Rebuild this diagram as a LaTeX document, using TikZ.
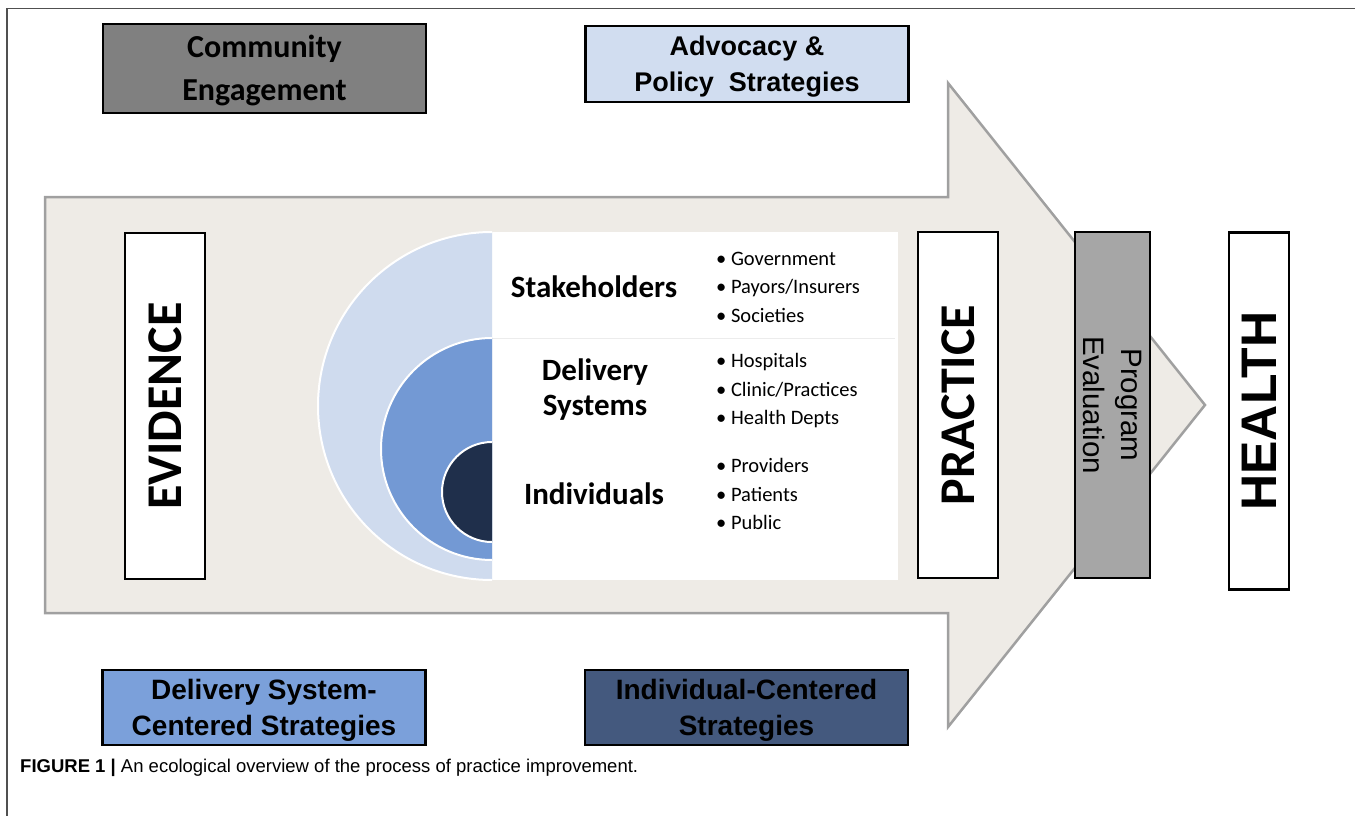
\documentclass[tikz,border=0pt]{standalone}
\usepackage{fontspec}
\setmainfont{Carlito}
\newfontfamily\arial{Liberation Sans}
\definecolor{arrowfill}{HTML}{EEEBE6}
\definecolor{arrowline}{HTML}{A0A0A0}
\definecolor{commfill}{HTML}{808080}
\definecolor{advfill}{HTML}{D1DDF0}
\definecolor{dssfill}{HTML}{7BA0DA}
\definecolor{indfill}{HTML}{44597E}
\definecolor{progfill}{HTML}{A6A6A6}
\definecolor{arcA}{HTML}{CFDBEE}
\definecolor{arcB}{HTML}{7399D4}
\definecolor{arcC}{HTML}{1F2F4B}
\definecolor{framecol}{HTML}{505050}
\tikzset{
  box/.style={draw=black, line width=2.5pt, inner sep=0pt, align=center},
  hbox/.style={box, minimum width=323pt},
  vbox/.style={box, rotate=90, minimum width=346pt, fill=white},
  boxtext/.style={inner sep=0pt, align=center},
  heading/.style={font=\bfseries\fontsize{31}{35}\selectfont, align=center, inner sep=0pt},
  bullets/.style={font=\fontsize{20.5}{28.5}\selectfont, align=left, anchor=west, inner sep=0pt},
}
\begin{document}
\begin{tikzpicture}[x=1pt,y=-1pt]
\useasboundingbox (0,0) rectangle (1355,816);
% frame
\draw[framecol, line width=1.5pt] (7,816) -- (7,8.5) -- (1355,8.5);
% big arrow
\draw[fill=arrowfill, draw=arrowline, line width=2.5pt, line join=miter]
  (45,197) -- (948,197) -- (948,83) -- (1205,405) -- (948,727) -- (948,613) -- (45,613) -- cycle;
% top boxes
\node[hbox, fill=commfill, minimum height=89pt] (comm) at (264.5,68.5) {};
\node[boxtext, font=\bfseries\fontsize{32}{43}\selectfont] (commt) at (264.5,70) {Community\\Engagement};
\node[hbox, fill=advfill, minimum height=76pt] (adv) at (747,64) {};
\node[boxtext, font=\arial\bfseries\fontsize{27}{36}\selectfont] (advt) at (747,67) {Advocacy \&\\Policy\ \ Strategies};
% bottom boxes
\node[hbox, fill=dssfill, minimum height=75pt] (dss) at (264,707.5) {};
\node[boxtext, font=\arial\bfseries\fontsize{28}{36}\selectfont] (dsst) at (264,710.5) {Delivery System-\\Centered Strategies};
\node[hbox, fill=indfill, minimum height=75pt] (ind) at (746.5,707.5) {};
\node[boxtext, font=\arial\bfseries\fontsize{28}{36}\selectfont] (indt) at (746.5,710.5) {Individual-Centered\\Strategies};
% vertical boxes
\node[vbox, minimum height=80pt, font=\bfseries\fontsize{50}{50}\selectfont] (evid) at (165,406) {EVIDENCE};
\node[vbox, minimum height=80pt, font=\bfseries\fontsize{50}{50}\selectfont] (prac) at (958,405) {PRACTICE};
\node[box, rotate=-90, minimum width=346pt, minimum height=75pt, fill=progfill, font=\arial\fontsize{29.5}{38}\selectfont] (prog) at (1112.5,405) {Program\\Evaluation};
\node[vbox, minimum width=357pt, minimum height=60pt, font=\arial\bfseries\fontsize{50}{50}\selectfont] (health) at (1259,411) {HEALTH};
% central panel
\fill[white] (492,232) rectangle (898,580);
\draw[gray!15, line width=1pt] (492,338) -- (895,338);
\begin{scope}
  \clip (300,220) rectangle (492,600);
  \fill[arcA, draw=white, line width=2pt] (492,406) circle[radius=174];
  \fill[arcB, draw=white, line width=2pt] (492,449) circle[radius=111];
  \fill[arcC, draw=white, line width=2pt] (492,492) circle[radius=50];
\end{scope}
\node[heading] (stake) at (594,287) {Stakeholders};
\node[heading] (deliv) at (595,390) {Delivery\\Systems};
\node[heading] (indiv) at (594,494) {Individuals};
\node[bullets] (b1) at (716,287) {• Government\\• Payors/Insurers\\• Societies};
\node[bullets] (b2) at (716,391) {• Hospitals\\• Clinic/Practices\\• Health Depts};
\node[bullets] (b3) at (716,494) {• Providers\\• Patients\\• Public};
% caption
\node[anchor=west, inner sep=0pt, font=\arial\fontsize{18.5}{22}\selectfont] (cap) at (20,768) {\textbf{FIGURE 1 |} An ecological overview of the process of practice improvement.};
\end{tikzpicture}
\end{document}
